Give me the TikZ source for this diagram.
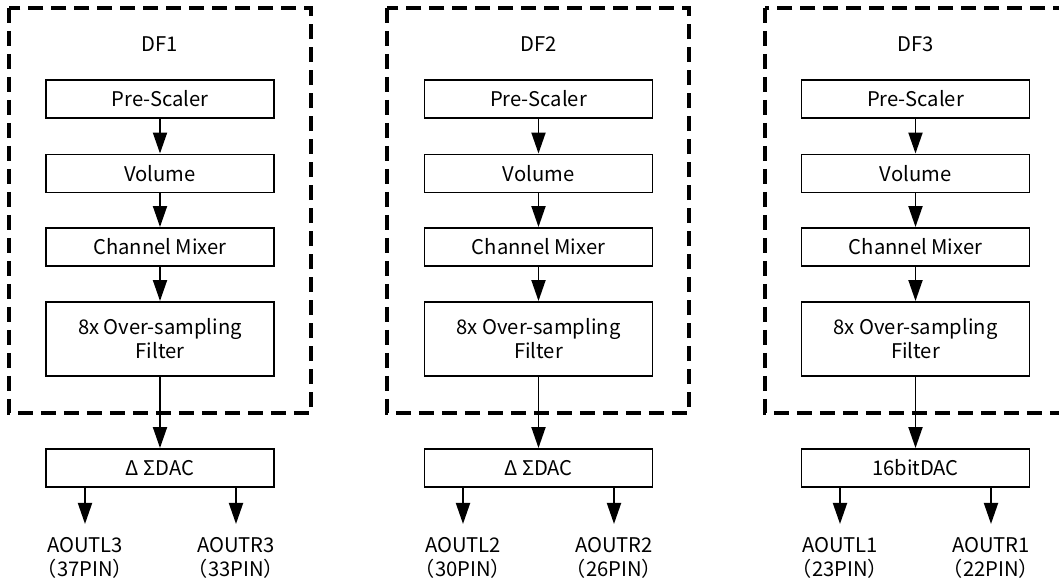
\documentclass[tikz,border=0pt]{standalone}
\usepackage{fontspec}
\setmainfont{Noto Sans CJK JP}
\usetikzlibrary{arrows.meta}

\tikzset{
    block/.style={draw, line width=1.1pt, minimum width=4.56cm, minimum height=0.76cm, inner sep=2pt, align=center},
    dfframe/.style={line width=1.8pt, dash pattern=on 0.3cm off 0.16cm},
    flow/.style={line width=1.1pt, -{Triangle[width=0.28cm,length=0.42cm]}},
    pinlabel/.style={anchor=north, align=center, inner sep=0pt}
}

\begin{document}
\begin{tikzpicture}[x=0.02cm, y=-0.02cm, font=\fontsize{11.5}{13.7}\selectfont]

    \useasboundingbox (0,0) rectangle (1059,584);
    \clip (0,0) rectangle (1059,584);

    % DF1
    \draw[dfframe] (9,8) rectangle (311,413);
    \node (dfA) at (160,44) {DF1};
    \node[block] (preA) at (160,99)   {Pre-Scaler};
    \node[block] (volA) at (160,173.5) {Volume};
    \node[block] (mixA) at (160,247)  {Channel Mixer};
    \node[block, minimum height=1.48cm] (filA) at (160,339) {8x Over-sampling\\Filter};
    \node[block] (dacA) at (160,468)  {Δ ΣDAC};
    \node[pinlabel] (outLA) at (85,537)  {AOUTL3\\（37PIN）};
    \node[pinlabel] (outRA) at (236,537) {AOUTR3\\（33PIN）};

    \draw[flow] (preA) -- (volA);
    \draw[flow] (volA) -- (mixA);
    \draw[flow] (mixA) -- (filA);
    \draw[flow] (filA) -- (dacA);
    \draw[flow] (dacA.south -| outLA) -- ++(0,36);
    \draw[flow] (dacA.south -| outRA) -- ++(0,36);

    % DF2
    \draw[dfframe] (387,8) rectangle (689,413);
    \node (dfB) at (538.5,44) {DF2};
    \node[block] (preB) at (538.5,99)   {Pre-Scaler};
    \node[block] (volB) at (538.5,173.5) {Volume};
    \node[block] (mixB) at (538.5,247)  {Channel Mixer};
    \node[block, minimum height=1.48cm] (filB) at (538.5,339) {8x Over-sampling\\Filter};
    \node[block] (dacB) at (538.5,468)  {Δ ΣDAC};
    \node[pinlabel] (outLB) at (463,537) {AOUTL2\\（30PIN）};
    \node[pinlabel] (outRB) at (614,537) {AOUTR2\\（26PIN）};

    \draw[flow] (preB) -- (volB);
    \draw[flow] (volB) -- (mixB);
    \draw[flow] (mixB) -- (filB);
    \draw[flow] (filB) -- (dacB);
    \draw[flow] (dacB.south -| outLB) -- ++(0,36);
    \draw[flow] (dacB.south -| outRB) -- ++(0,36);

    % DF3
    \draw[dfframe] (765,8) rectangle (1075,413);
    \node (dfC) at (915.5,44) {DF3};
    \node[block] (preC) at (915.5,99)   {Pre-Scaler};
    \node[block] (volC) at (915.5,173.5) {Volume};
    \node[block] (mixC) at (915.5,247)  {Channel Mixer};
    \node[block, minimum height=1.48cm] (filC) at (915.5,339) {8x Over-sampling\\Filter};
    \node[block] (dacC) at (915.5,468)  {16bitDAC};
    \node[pinlabel] (outLC) at (840,537) {AOUTL1\\（23PIN）};
    \node[pinlabel] (outRC) at (991,537) {AOUTR1\\（22PIN）};

    \draw[flow] (preC) -- (volC);
    \draw[flow] (volC) -- (mixC);
    \draw[flow] (mixC) -- (filC);
    \draw[flow] (filC) -- (dacC);
    \draw[flow] (dacC.south -| outLC) -- ++(0,36);
    \draw[flow] (dacC.south -| outRC) -- ++(0,36);

\end{tikzpicture}
\end{document}
